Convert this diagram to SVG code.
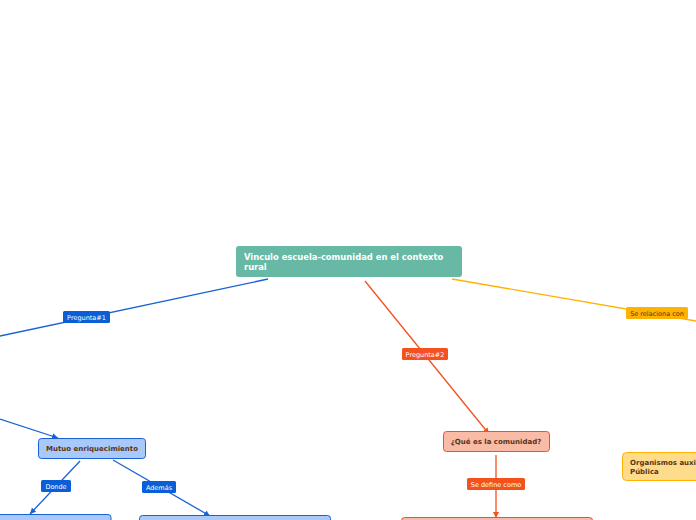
<svg xmlns="http://www.w3.org/2000/svg" width="696" height="520" viewBox="0 0 696 520">
<style>
.t{font-family:"DejaVu Sans","Verdana",sans-serif}
.lb{font-size:6.5px;fill:#ffffff}
.nt{font-size:7px;font-weight:bold;fill:#5a3414}
.bl{stroke:#1a62d4;stroke-width:1.3;fill:none}
.or{stroke:#f4511e;stroke-width:1.3;fill:none}
.ye{stroke:#ffb300;stroke-width:1.3;fill:none}
</style>
<defs>
<marker id="ab" markerWidth="8" markerHeight="8" refX="6" refY="3" orient="auto" markerUnits="userSpaceOnUse"><path d="M0,0 L6,3 L0,6 Z" fill="#1a62d4"/></marker>
<marker id="ao" markerWidth="8" markerHeight="8" refX="6" refY="3" orient="auto" markerUnits="userSpaceOnUse"><path d="M0,0 L6,3 L0,6 Z" fill="#f4511e"/></marker>
</defs>
<rect width="696" height="520" fill="#ffffff"/>
<g id="connectors">
<line class="bl" x1="268" y1="279" x2="0" y2="336"/>
<line class="bl" x1="0" y1="419" x2="58" y2="438" marker-end="url(#ab)"/>
<line class="bl" x1="80" y1="461" x2="30" y2="514" marker-end="url(#ab)"/>
<line class="bl" x1="113" y1="460" x2="210" y2="516" marker-end="url(#ab)"/>
<line class="or" x1="365" y1="281" x2="489" y2="434" marker-end="url(#ao)"/>
<line class="or" x1="496" y1="455" x2="496" y2="518" marker-end="url(#ao)"/>
<line class="ye" x1="452" y1="279" x2="696" y2="321"/>
<g id="lbl-p1"><rect x="63" y="311" width="47" height="12" rx="1.5" fill="#0b5fd6"/><text class="t lb" x="86.5" y="319.5" text-anchor="middle">Pregunta#1</text></g>
<g id="lbl-donde"><rect x="41" y="480" width="30" height="12" rx="1.5" fill="#0b5fd6"/><text class="t lb" x="56" y="488.5" text-anchor="middle">Donde</text></g>
<g id="lbl-ademas"><rect x="142" y="481" width="34" height="12" rx="1.5" fill="#0b5fd6"/><text class="t lb" x="159" y="489.5" text-anchor="middle">Además</text></g>
<g id="lbl-p2"><rect x="402" y="348" width="46" height="12" rx="1.5" fill="#f4511e"/><text class="t lb" x="425" y="356.5" text-anchor="middle">Pregunta#2</text></g>
<g id="lbl-def"><rect x="467" y="478" width="58" height="12" rx="1.5" fill="#f4511e"/><text class="t lb" x="496" y="486.5" text-anchor="middle">Se define como</text></g>
<g id="lbl-rel"><rect x="626" y="307" width="62" height="12" rx="1.5" fill="#ffb300"/><text class="t lb" x="657" y="315.5" text-anchor="middle" style="fill:#5a3414">Se relaciona con</text></g>
</g>
<g id="main">
<rect x="236" y="246" width="226" height="31" rx="3" fill="#67b8a5"/>
<text class="t" x="244" y="260" font-size="8.4" font-weight="bold" fill="#ffffff">Vinculo escuela-comunidad en el contexto</text>
<text class="t" x="244" y="270" font-size="8.4" font-weight="bold" fill="#ffffff">rural</text>
</g>
<g id="mutuo">
<rect x="38.5" y="438.5" width="107" height="20" rx="3" fill="#a8c9fa" stroke="#1a62d4"/>
<text class="t nt" x="92" y="451" text-anchor="middle">Mutuo enriquecimiento</text>
</g>
<g id="donde-node"><rect x="-10" y="514.5" width="121" height="20" rx="3" fill="#a8c9fa" stroke="#1a62d4"/></g>
<g id="ademas-node"><rect x="139.5" y="515.5" width="191" height="20" rx="3" fill="#a8c9fa" stroke="#1a62d4"/></g>
<g id="comunidad">
<rect x="443.5" y="431.5" width="106" height="20" rx="3" fill="#f9bba6" stroke="#f4511e"/>
<text class="t nt" x="496" y="444" text-anchor="middle">¿Qué es la comunidad?</text>
</g>
<g id="define-node"><rect x="401.5" y="517.5" width="191" height="20" rx="3" fill="#f9bba6" stroke="#f4511e"/></g>
<g id="organismos">
<rect x="622.5" y="452.5" width="90" height="28" rx="4" fill="#fedc8c" stroke="#ffb300"/>
<text class="t nt" x="630" y="465">Organismos auxiliares</text>
<text class="t nt" x="630" y="474">Pública</text>
</g>
</svg>
